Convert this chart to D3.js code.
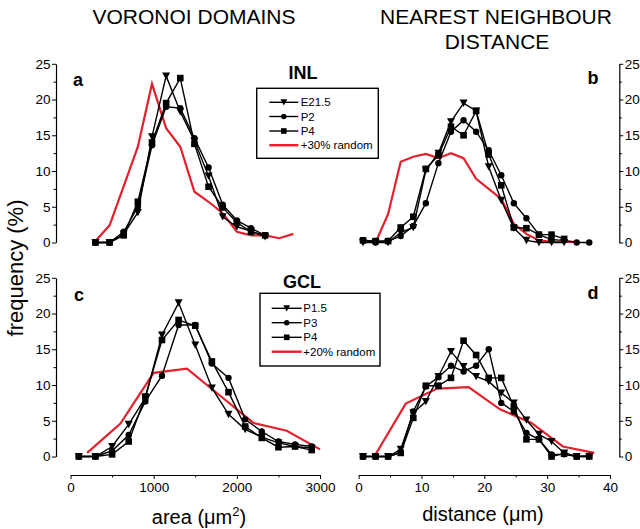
<!DOCTYPE html>
<html><head><meta charset="utf-8">
<script src="https://cdn.jsdelivr.net/npm/d3@7"></script>
<style>
body{margin:0;background:#fff}
svg{display:block}
text{font-family:"Liberation Sans",Arial,Helvetica,sans-serif;fill:#000}
</style>
</head><body>
<svg id="chart" width="640" height="529"></svg>
<script>
// ---------- DATA ----------
// Panel a: INL Voronoi domain area (µm²)
const areaBinsINL = [300,470,640,810,980,1150,1320,1490,1660,1830,2000,2170,2340];
const areaBinsINLRandom = [300,470,640,810,980,1150,1320,1490,1660,1830,2000,2170,2340,2510,2680];
const inlAreaE215 = [0,0,1.2,4.2,14.8,23.3,18.3,14.2,9.3,3.6,2.2,1.6,0.8];
const inlAreaP2   = [0,0,1.5,5.0,13.6,19.0,18.8,14.6,10.5,5.3,3.1,2.0,1.0];
const inlAreaP4   = [0,0,1.0,5.7,14.0,19.5,23.0,13.8,7.8,4.9,2.8,1.5,1.0];
const inlAreaRandom = [0.2,2.4,7.9,13.4,22.2,16.0,13.4,7.1,5.7,4.1,1.5,1.0,1.0,0.6,1.2];

// Panel b: INL nearest neighbour distance (µm)
const distBins = [0.7,2.7,4.7,6.7,8.7,10.7,12.7,14.7,16.7,18.7,20.7,22.7,24.7,26.7,28.7,30.7,32.7,34.7,36.7];
const inlDistE215 = [0,0,0,1.4,2.1,10.1,12.5,16.9,19.5,18.4,10.6,5.9,2.0,0.3,0,0,0];
const inlDistP2   = [0.3,0,0.2,0.9,2.3,5.5,11.1,15.5,17.1,15.5,12.9,9.4,5.5,3.4,1.1,0.4,0.3,0,0];
const inlDistP4   = [0.3,0.2,0.2,2.1,3.6,10.3,12.2,16.2,15.0,18.4,12.3,8.0,2.1,2.0,1.1,1.1,0.5];
const distBinsINLRandom = [2.7,4.7,6.7,8.7,10.7,12.7,14.7,16.7,18.7,20.7,22.7,24.7,26.7,28.7,30.7,32.7,34.7];
const inlDistRandom = [0,4.0,11.3,12.0,12.4,11.8,12.5,11.8,8.9,7.5,6.1,2.6,1.2,0.3,0.1,0.1,0.1];

// Panel c: GCL Voronoi domain area (µm²)
const areaBinsGCL = [100,300,500,700,900,1100,1300,1500,1700,1900,2100,2300,2500,2700,2900];
const gclAreaP15 = [0,0,1.4,4.5,8.2,17.0,21.5,15.6,9.6,5.9,3.8,2.7,1.9,1.4,1.2];
const gclAreaP3  = [0,0,0.8,3.0,7.7,11.3,18.4,18.4,13.0,11.0,5.2,3.5,2.1,1.7,1.4];
const gclAreaP4  = [0,0,0.3,2.1,8.4,16.3,19.1,18.3,13.3,9.0,4.2,2.6,1.3,1.4,0.9];
const areaBinsGCLRandom = [200,600,1000,1400,1800,2200,2600,3000];
const gclAreaRandom = [0.5,4.6,11.7,12.3,8.5,4.7,3.6,1.0];

// Panel d: GCL nearest neighbour distance (µm)
const gclDistP15 = [0,0,0,1.0,6.1,7.7,11.2,14.7,12.6,11.2,10.5,8.9,7.5,5.1,3.1,2.1,0.5,0,0];
const gclDistP3  = [0,0,0,0.6,6.3,9.8,11.1,12.7,11.9,12.7,15.0,7.5,6.3,3.3,2.4,0.3,0.3,0,0.1];
const gclDistP4  = [0,0,0,0.5,5.4,9.9,9.9,11.0,16.2,14.2,11.0,11.0,7.0,2.4,2.4,0,0.4,0,0];
const distBinsGCLRandom = [2.5,7.5,12.5,17.5,22.5,27.5,32.5,37.5];
const gclDistRandom = [0,7.4,9.5,9.7,6.6,4.7,1.4,0.5];

// Axis ticks and labels
const yTicks = [0,5,10,15,20,25];
const yMinorTicks = [2.5,7.5,12.5,17.5,22.5];
const areaTicks = [0,1000,2000,3000];
const areaMinorTicks = [500,1500,2500];
const distTicks = [0,10,20,30,40];
const distMinorTicks = [5,15,25,35];

const inlLegend = ["E21.5","P2","P4","+30% random"];
const gclLegend = ["P1.5","P3","P4","+20% random"];
const markerTypes = ["triangle","circle","square"];

// ---------- LAYOUT ----------
const svg = d3.select("#chart");
const RED = "#e4202c";

const xArea = d3.scaleLinear().domain([0,3000]).range([70.5,320]);
const xDist = d3.scaleLinear().domain([0,40]).range([358.6,610]);
const yTop = d3.scaleLinear().domain([0,25]).range([242.5,63.8]);
const yBot = d3.scaleLinear().domain([0,25]).range([456.5,277.8]);

function marker(g, type, x, y, s) {
  s = s || 1;
  if (type === "triangle") {
    g.append("path").attr("d", `M${x-4*s},${y-3.5*s}L${x+4*s},${y-3.5*s}L${x},${y+3.8*s}Z`).attr("fill","#000");
  } else if (type === "circle") {
    g.append("circle").attr("cx",x).attr("cy",y).attr("r",3.2*s).attr("fill","#000");
  } else {
    g.append("rect").attr("x",x-3.3*s).attr("y",y-3.3*s).attr("width",6.6*s).attr("height",6.6*s).attr("fill","#000");
  }
}

function series(xs, ys, xScale, yScale, type) {
  const g = svg.append("g");
  const pts = ys.map((v,i)=>[xScale(xs[i]), yScale(v)]);
  g.append("path").attr("d", d3.line()(pts)).attr("fill","none")
    .attr("stroke", type ? "#000" : RED).attr("stroke-width", type ? 1.4 : 2.2)
    .attr("stroke-linejoin","miter");
  if (type) pts.forEach(p=>marker(g,type,p[0],p[1]));
}

function yAxis(x, yScale, right) {
  const ax = (right ? d3.axisRight(yScale) : d3.axisLeft(yScale))
    .tickValues(yTicks).tickSize(4).tickSizeOuter(0).tickPadding(1.5);
  const g = svg.append("g").attr("transform",`translate(${x},0)`).call(ax);
  g.selectAll("text").style("font-size","13.5px").style("font-family",'"Liberation Sans",Arial,sans-serif');
  g.select(".domain").attr("stroke","#000").attr("stroke-width",1.2);
  g.selectAll(".tick line").attr("stroke","#000").attr("stroke-width",1);
  const m = svg.append("g").attr("transform",`translate(${x},0)`)
    .call((right ? d3.axisRight(yScale) : d3.axisLeft(yScale)).tickValues(yMinorTicks).tickSize(2.5).tickFormat(""));
  m.select(".domain").remove();
  m.selectAll(".tick line").attr("stroke","#000");
}

function xAxis(y, xScale, ticks, minor) {
  const g = svg.append("g").attr("transform",`translate(0,${y})`)
    .call(d3.axisBottom(xScale).tickValues(ticks).tickSize(4).tickSizeOuter(0).tickFormat(d3.format("d")).tickPadding(3));
  g.selectAll("text").style("font-size","13.5px").style("font-family",'"Liberation Sans",Arial,sans-serif');
  g.select(".domain").attr("stroke","#000").attr("stroke-width",1.2);
  const m = svg.append("g").attr("transform",`translate(0,${y})`)
    .call(d3.axisBottom(xScale).tickValues(minor).tickSize(2.5).tickFormat(""));
  m.select(".domain").remove();
  m.selectAll(".tick line").attr("stroke","#000");
}

function legend(x0, y0, w, h, labels, rowYs, lineX1, lineX2, textX) {
  const g = svg.append("g");
  g.append("rect").attr("x",x0).attr("y",y0).attr("width",w).attr("height",h)
    .attr("fill","#fff").attr("stroke","#000").attr("stroke-width",1.4);
  labels.forEach((lab,i)=>{
    const yy = rowYs[i];
    const type = markerTypes[i];
    g.append("line").attr("x1",lineX1).attr("x2",lineX2).attr("y1",yy).attr("y2",yy)
      .attr("stroke", type ? "#000" : RED).attr("stroke-width", type ? 1.4 : 2.4);
    if (type) marker(g, type, (lineX1+lineX2)/2, yy, 0.85);
    g.append("text").attr("x",textX).attr("y",yy+4).style("font-size","11.5px").text(lab);
  });
}

// ---------- AXES ----------
yAxis(56, yTop, false);
yAxis(56, yBot, false);
yAxis(619.3, yTop, true);
yAxis(619.3, yBot, true);
xAxis(475, xArea, areaTicks, areaMinorTicks);
xAxis(475, xDist, distTicks, distMinorTicks);

// ---------- SERIES ----------
series(areaBinsINLRandom, inlAreaRandom, xArea, yTop, null);
series(areaBinsINL, inlAreaE215, xArea, yTop, "triangle");
series(areaBinsINL, inlAreaP2, xArea, yTop, "circle");
series(areaBinsINL, inlAreaP4, xArea, yTop, "square");

series(distBinsINLRandom, inlDistRandom, xDist, yTop, null);
series(distBins, inlDistE215, xDist, yTop, "triangle");
series(distBins, inlDistP2, xDist, yTop, "circle");
series(distBins, inlDistP4, xDist, yTop, "square");

series(areaBinsGCLRandom, gclAreaRandom, xArea, yBot, null);
series(areaBinsGCL, gclAreaP15, xArea, yBot, "triangle");
series(areaBinsGCL, gclAreaP3, xArea, yBot, "circle");
series(areaBinsGCL, gclAreaP4, xArea, yBot, "square");

series(distBinsGCLRandom, gclDistRandom, xDist, yBot, null);
series(distBins, gclDistP15, xDist, yBot, "triangle");
series(distBins, gclDistP3, xDist, yBot, "circle");
series(distBins, gclDistP4, xDist, yBot, "square");

// ---------- LEGENDS ----------
legend(256.7, 88.3, 121.6, 70, inlLegend, [102.3,116.5,131,145.2], 269.3, 298.3, 300.7);
legend(260, 293.3, 120, 72.7, gclLegend, [308.3,322.7,337.3,351.7], 271.7, 301.7, 303.3);

// ---------- TEXT ----------
svg.append("text").attr("x",194).attr("y",24).attr("text-anchor","middle").style("font-size","21px").text("VORONOI DOMAINS");
svg.append("text").attr("x",496).attr("y",24).attr("text-anchor","middle").style("font-size","21px").text("NEAREST NEIGHBOUR");
svg.append("text").attr("x",497).attr("y",49).attr("text-anchor","middle").style("font-size","21px").text("DISTANCE");

svg.append("text").attr("x",303).attr("y",79).attr("text-anchor","middle").style("font-size","18px").style("font-weight","bold").text("INL");
svg.append("text").attr("x",302).attr("y",288).attr("text-anchor","middle").style("font-size","18px").style("font-weight","bold").text("GCL");

[["a",78,86],["b",593,84],["c",79,301],["d",593,299]].forEach(d=>{
  svg.append("text").attr("x",d[1]).attr("y",d[2]).attr("text-anchor","middle")
    .style("font-size","18px").style("font-weight","bold").text(d[0]);
});

svg.append("text").attr("transform","translate(23,268) rotate(-90)").attr("text-anchor","middle")
  .style("font-size","22px").text("frequency (%)");

const areaLab = svg.append("text").attr("x",199).attr("y",524).attr("text-anchor","middle").style("font-size","20px");
areaLab.append("tspan").text("area (\u03bcm");
areaLab.append("tspan").attr("dy",-8).style("font-size","13px").text("2");
areaLab.append("tspan").attr("dy",8).text(")");
svg.append("text").attr("x",483).attr("y",521).attr("text-anchor","middle").style("font-size","20px").text("distance (\u03bcm)");
</script>
</body></html>
